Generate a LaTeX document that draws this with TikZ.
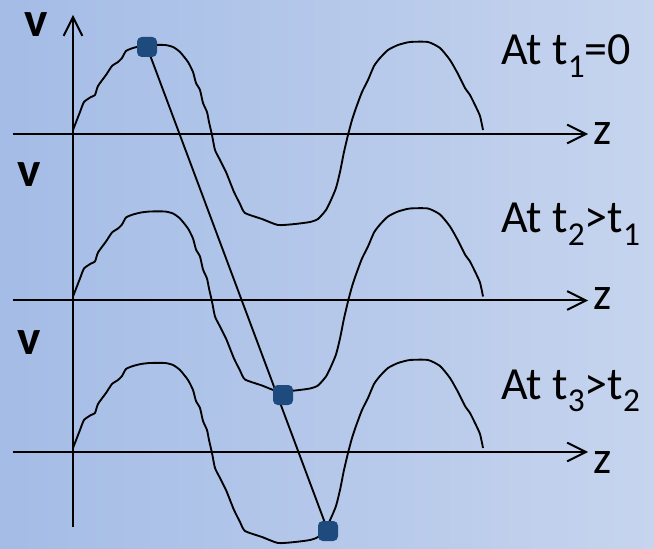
\documentclass[tikz,border=0pt]{standalone}
\usepackage{fontspec}
\setmainfont{Carlito}
\usepackage{tikz}
\usetikzlibrary{arrows.meta, backgrounds}

\definecolor{bgleft}{RGB}{164,188,230}
\definecolor{bgright}{RGB}{198,212,238}
\definecolor{dotblue}{RGB}{31,74,125}

\newcommand{\lowsub}[1]{\raisebox{-0.27em}{\fontsize{25}{25}\selectfont #1}}
% one hand-drawn period and a half, first copy
\newcommand{\wavecurve}{plot[smooth, tension=0.35] coordinates {
  (73,130) (80,112) (84,102) (91,97) (95,95) (98,86) (106,75) (112,66)
  (118,62) (122,58) (126,51) (133,48) (141,46) (150,45) (165,45) (173,47)
  (180,52) (188,62) (193,72) (196,83) (200,90) (203,103) (207,112) (209,122)
  (212,135) (215,150) (220,160) (226,172) (230,182) (234,192) (240,204)
  (245,213) (262,219) (278,225) (295,224) (310,222) (318,219) (326,210)
  (331,200) (336,188) (340,172) (344,152) (348,135) (352,120) (356,108)
  (362,92) (368,80) (374,66) (380,58) (388,50) (398,45) (410,42) (428,42)
  (440,48) (450,60) (458,74) (465,88) (470,95) (475,105) (480,116) (483,130)}}

\begin{document}
\begin{tikzpicture}[
  x=0.75pt, y=-0.75pt,
  font=\fontsize{34.5}{40}\selectfont,
  axis/.style={line width=1.5pt, -{Straight Barb[length=14pt, width=14pt, line width=1.5pt]}},
  wave/.style={line width=1.4pt, line join=round},
  link/.style={line width=1.4pt},
  dot/.style={fill=dotblue, rounded corners=3.5pt, minimum size=15pt, inner sep=0pt},
  lbl/.style={anchor=base west, inner sep=0pt},
  vlbl/.style={lbl, font=\fontsize{37}{42}\selectfont\bfseries},
]
  \useasboundingbox (0,0) rectangle (654,549);

  % axes
  \coordinate (vs) at (73,527);
  \coordinate (ve) at (73,15);
  \draw[axis] (vs) -- (ve);
  \foreach \n/\y in {1/134, 2/300.5, 3/452} {
    \coordinate (zs\n) at (13,\y);
    \coordinate (ze\n) at (588,\y);
    \draw[axis] (zs\n) -- (ze\n);
  }

  % waves
  \foreach \s in {0, 166.5, 318}
    \draw[wave, shift={(0,\s)}] \wavecurve;

  % labels
  \node[vlbl] (v1) at (24,37) {v};
  \node[vlbl] (v2) at (17,187) {v};
  \node[vlbl] (v3) at (17,354) {v};
  \node[lbl] (z1) at (593,145) {z};
  \node[lbl] (z2) at (593,310) {z};
  \node[lbl] (z3) at (593,473) {z};
  \node[lbl] (t1) at (501,65) {At t\lowsub{1}=0};
  \node[lbl] (t2) at (501,233) {At t\lowsub{2}>t\lowsub{1}};
  \node[lbl] (t3) at (501,399) {At t\lowsub{3}>t\lowsub{2}};

  % moving point
  \node[dot] (d1) at (147,47) {};
  \node[dot] (d2) at (283,395) {};
  \node[dot] (d3) at (328,531) {};

  \begin{scope}[on background layer]
    \shade[left color=bgleft, right color=bgright] (0,0) rectangle (654,549);
    \draw[link] (d1.center) -- (d3.center);
  \end{scope}
\end{tikzpicture}
\end{document}
